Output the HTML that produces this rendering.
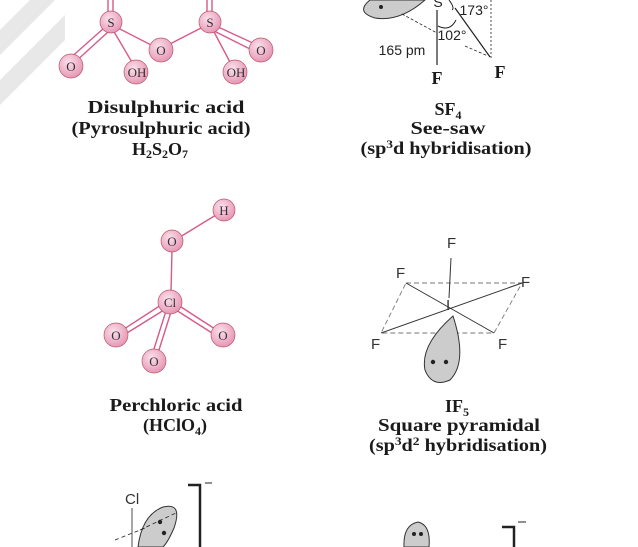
<!DOCTYPE html>
<html><head><meta charset="utf-8"><style>
html,body{margin:0;padding:0;background:#fff;width:638px;height:547px;overflow:hidden}
svg{display:block}
.cap{font-family:"Liberation Serif",serif;font-weight:bold;font-size:18px;fill:#1a1a1a;text-anchor:middle}
.at{font-family:"Liberation Serif",serif;font-size:13px;fill:#333;text-anchor:middle}
.sf{font-family:"Liberation Sans",sans-serif;font-size:14px;fill:#222;text-anchor:middle}
.bp{stroke:#d65a8a;stroke-width:1.4;fill:none}
</style></head><body>
<svg width="638" height="547" viewBox="0 0 638 547">
<defs><radialGradient id="ball" cx="40%" cy="35%" r="70%"><stop offset="0" stop-color="#fbe0ea"/><stop offset="1" stop-color="#e592b2"/></radialGradient></defs>
<g fill="#e8e8e8">
<polygon points="0,30 30,0 55,0 0,55"/><polygon points="0,80 65,15 65,40 0,105"/>
</g>
<!-- Disulphuric acid -->
<g>
<line class="bp" x1="108" y1="0" x2="108" y2="14"/><line class="bp" x1="113" y1="0" x2="113" y2="14"/>
<line class="bp" x1="207" y1="0" x2="207" y2="14"/><line class="bp" x1="212" y1="0" x2="212" y2="14"/>
<line class="bp" x1="104" y1="28" x2="68" y2="60"/><line class="bp" x1="108" y1="32" x2="74" y2="63"/>
<line class="bp" x1="113" y1="30" x2="133" y2="64"/>
<line class="bp" x1="118" y1="28" x2="155" y2="47"/>
<line class="bp" x1="166" y1="46" x2="203" y2="27"/>
<line class="bp" x1="213" y1="30" x2="231" y2="64"/>
<line class="bp" x1="216" y1="26" x2="255" y2="44"/><line class="bp" x1="214" y1="31" x2="252" y2="50"/>
<g fill="url(#ball)" stroke="#b56" stroke-width="0.7">
<circle cx="111" cy="22" r="11"/><circle cx="210" cy="22" r="11"/>
<circle cx="71" cy="66" r="12"/><circle cx="161" cy="50" r="12"/><circle cx="261" cy="50" r="12"/>
<circle cx="136" cy="72" r="12"/><circle cx="235" cy="72" r="12"/>
</g>
<text class="at" x="111" y="27">S</text><text class="at" x="210" y="27">S</text>
<text class="at" x="71" y="71">O</text><text class="at" x="161" y="55">O</text><text class="at" x="261" y="55">O</text>
<text class="at" x="137" y="77" font-size="12">OH</text><text class="at" x="236" y="77" font-size="12">OH</text>
</g>
<text class="cap" x="166" y="113" textLength="157" lengthAdjust="spacingAndGlyphs">Disulphuric acid</text>
<text class="cap" x="161" y="134" textLength="179" lengthAdjust="spacingAndGlyphs">(Pyrosulphuric acid)</text>
<text class="cap" x="160" y="155" font-size="19">H<tspan font-size="12" dy="3">2</tspan><tspan dy="-3">S</tspan><tspan font-size="12" dy="3">2</tspan><tspan dy="-3">O</tspan><tspan font-size="12" dy="3">7</tspan></text>
<!-- SF4 -->
<g stroke="#222" fill="none">
<path d="M370,0 Q355,12 375,18 Q400,22 425,0 Z" fill="#ccc" stroke="#333"/>
<circle cx="381" cy="7" r="1.5" fill="#222"/>
<path d="M402,14 L437,33" stroke-dasharray="3,2" stroke-width="0.8"/>
<line x1="437" y1="10" x2="437" y2="65" stroke-width="1.2"/>
<line x1="455" y1="8" x2="490" y2="57" stroke-width="1.2"/>
<line x1="491" y1="0" x2="491" y2="58" stroke-dasharray="2,2" stroke-width="0.8"/>
<line x1="465" y1="46" x2="488" y2="56" stroke-dasharray="3,2" stroke-width="0.8"/>
<path d="M438,26 Q450,32 456,20" stroke-width="1"/>
<path d="M449,0 Q455,8 452,10" stroke-width="1"/>
</g>
<text class="sf" x="438" y="7" font-family="Liberation Serif" font-size="18">S</text>
<text class="sf" x="474" y="15" font-size="14">173°</text>
<text class="sf" x="452" y="40" font-size="10">102°</text>
<text class="sf" x="402" y="55" font-size="15">165 pm</text>
<text class="cap" x="437" y="84" font-size="20" font-weight="normal">F</text>
<text class="cap" x="500" y="78" font-size="20" font-weight="normal">F</text>
<text class="cap" x="448" y="115" font-size="19">SF<tspan font-size="12" dy="4">4</tspan></text>
<text class="cap" x="448" y="134" textLength="75" lengthAdjust="spacingAndGlyphs">See-saw</text>
<text class="cap" x="446" y="154" textLength="171" lengthAdjust="spacingAndGlyphs">(sp<tspan font-size="12" dy="-6">3</tspan><tspan dy="6">d hybridisation)</tspan></text>
<!-- Perchloric -->
<g>
<line class="bp" x1="172" y1="250" x2="171" y2="292"/>
<line class="bp" x1="180" y1="237" x2="216" y2="215"/>
<line class="bp" x1="161" y1="305" x2="124" y2="329"/><line class="bp" x1="164" y1="310" x2="127" y2="333"/>
<line class="bp" x1="178" y1="305" x2="215" y2="329"/><line class="bp" x1="176" y1="310" x2="212" y2="333"/>
<line class="bp" x1="166" y1="311" x2="153" y2="352"/><line class="bp" x1="171" y1="312" x2="158" y2="353"/>
<g fill="url(#ball)" stroke="#b56" stroke-width="0.7">
<circle cx="172" cy="241" r="11"/><circle cx="224" cy="210" r="11"/><circle cx="170" cy="302" r="12"/>
<circle cx="116" cy="335" r="12"/><circle cx="223" cy="335" r="12"/><circle cx="154" cy="361" r="12"/>
</g>
<text class="at" x="172" y="246">O</text><text class="at" x="224" y="215">H</text><text class="at" x="170" y="307">Cl</text>
<text class="at" x="116" y="340">O</text><text class="at" x="223" y="340">O</text><text class="at" x="154" y="366">O</text>
</g>
<text class="cap" x="176" y="411" textLength="133" lengthAdjust="spacingAndGlyphs">Perchloric acid</text>
<text class="cap" x="175" y="431" font-size="19">(HClO<tspan font-size="12" dy="4">4</tspan><tspan dy="-4">)</tspan></text>
<!-- IF5 -->
<g stroke="#333" fill="none">
<polygon points="406,283 522,283 494,333 381,333" stroke="#777" stroke-dasharray="5,3" stroke-width="0.9"/>
<line x1="451" y1="258" x2="449" y2="298" stroke-width="1"/>
<line x1="406" y1="283" x2="494" y2="333" stroke-width="1"/>
<line x1="381" y1="333" x2="522" y2="283" stroke-width="1"/>
<path d="M453,316 Q468,362 450,380 Q432,388 425,370 Q420,345 453,316 Z" fill="#ccc" stroke="#333"/>
<circle cx="433" cy="362" r="2.2" fill="#222" stroke="none"/><circle cx="446" cy="362" r="2.2" fill="#222" stroke="none"/>
</g>
<g font-family="Liberation Sans" font-size="15" fill="#333">
<text x="447" y="248">F</text><text x="396" y="278">F</text><text x="521" y="287">F</text>
<text x="371" y="349">F</text><text x="498" y="349">F</text><text x="446" y="310">I</text>
</g>
<text class="cap" x="457" y="412" font-size="19">IF<tspan font-size="12" dy="4">5</tspan></text>
<text class="cap" x="459" y="431" textLength="162" lengthAdjust="spacingAndGlyphs">Square pyramidal</text>
<text class="cap" x="458" y="451" textLength="178" lengthAdjust="spacingAndGlyphs">(sp<tspan font-size="12" dy="-6">3</tspan><tspan dy="6">d</tspan><tspan font-size="12" dy="-6">2</tspan><tspan dy="6"> hybridisation)</tspan></text>
<!-- bottom partial -->
<g stroke="#222" fill="none">
<text x="125" y="504" font-family="Liberation Sans" font-size="15" fill="#333" stroke="none">Cl</text>
<line x1="132" y1="508" x2="132" y2="547" stroke-width="0.8"/>
<path d="M138,547 Q142,515 163,507 Q183,502 174,528 Q168,542 163,547 Z" fill="#ccc" stroke="#333"/>
<path d="M115,540 L145,528 M140,530 L178,512" stroke-dasharray="4,3" stroke-width="0.8"/>
<circle cx="160" cy="522" r="2.2" fill="#222" stroke="none"/><circle cx="164" cy="533" r="2.2" fill="#222" stroke="none"/>
<path d="M188,485 L200,485 L200,547" stroke-width="2.5"/>
<line x1="205" y1="483" x2="212" y2="483" stroke-width="1"/>
<path d="M404,547 Q403,525 418,522 Q431,525 429,547 Z" fill="#ccc" stroke="#333"/>
<circle cx="414" cy="534" r="2" fill="#222" stroke="none"/><circle cx="421" cy="534" r="2" fill="#222" stroke="none"/>
<path d="M502,527 L514,527 L514,547" stroke-width="2.5"/>
<line x1="518" y1="522" x2="526" y2="522" stroke-width="1"/>
</g>
</svg>
</body></html>
